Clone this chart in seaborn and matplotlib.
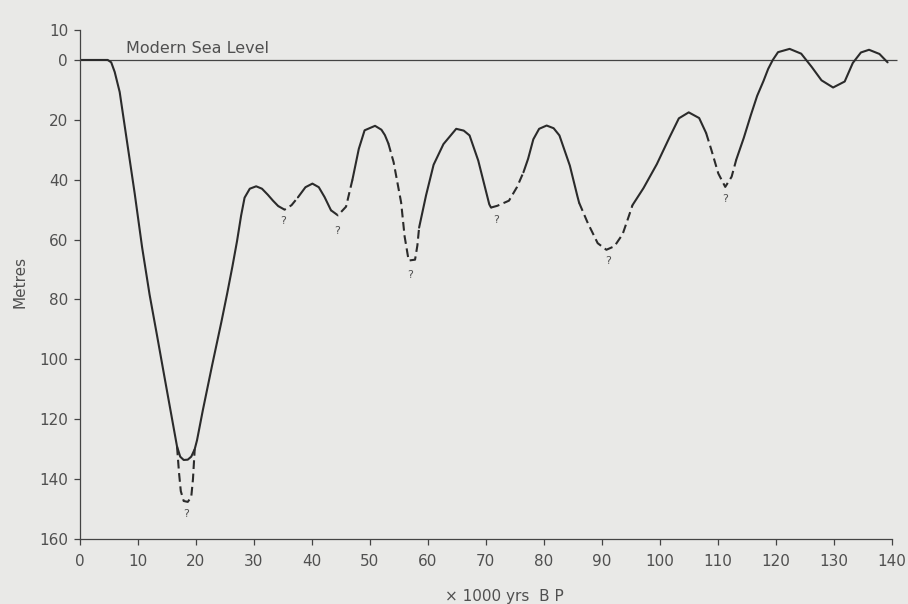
import matplotlib
matplotlib.use("Agg")
import matplotlib.pyplot as plt
import pandas as pd
import seaborn as sns

# sea level curve: thousands of years BP against metres below present level
years = [0, 2, 4.8, 5.4, 6.0, 6.86, 8.15, 9.45, 10.73, 12.02, 13.29, 14.54,
         15.8, 16.75, 17.3, 17.9, 18.6, 19.2, 19.8, 20.2, 21.2, 22.8, 24.4,
         25.4, 26.3, 27.1, 27.8, 28.4, 29.3, 30.4, 31.4, 32.4, 33.3, 34.2, 35.3,
         36.5, 37.6, 38.9, 40.1, 41.2, 42.2, 43.3, 44.5, 45.9, 47.0, 48.1, 49.1,
         50.9, 52.0, 52.6, 53.2, 54.1, 55.4, 56.0, 56.7, 57.8, 58.2, 58.5, 59.7,
         61.0, 62.7, 64.9, 66.2, 67.2, 68.7, 70.6, 70.9, 72.0, 74.0, 75.4, 76.5,
         77.3, 78.2, 79.2, 80.5, 81.7, 82.7, 84.5, 85.8, 86.1, 87.6, 89.3, 90.8,
         92.2, 93.6, 94.7, 95.3, 97.2, 99.5, 101.7, 103.3, 105.0, 106.8, 108.0,
         108.9, 110.1, 111.3, 112.4, 113.2, 114.5, 115.7, 116.8, 117.9, 118.7,
         119.5, 120.4, 122.4, 124.4, 126.2, 127.9, 129.9, 131.9, 133.3, 134.7,
         136.1, 137.9, 139.3]
depth = [0, 0, 0, 0.8, 4.0, 10.7, 27.6, 44.6, 62.6, 78.4, 91.9, 105.4,
         118.9, 129.1, 132.5, 133.6, 133.5, 132.5, 130, 127, 117, 102, 87.5,
         78, 69, 60.5, 52, 46, 43, 42.2, 43, 45, 47, 48.8, 50,
         48.5, 45.9, 42.5, 41.3, 42.5, 45.8, 50.2, 51.9, 49, 40, 29.7, 23.5,
         22, 23.3, 25.1, 27.9, 34.1, 47.6, 58.9, 67, 66.7, 62, 56, 45.2,
         35, 28.1, 23, 23.6, 25.2, 33.6, 48.2, 49.3, 48.7, 47, 42.4, 37.5,
         33, 26.5, 23, 21.9, 22.8, 25.2, 35.3, 45.5, 47.7, 54.5, 61.2, 63.4,
         62.2, 58.2, 52, 48.5, 42.8, 34.8, 25.8, 19.5, 17.5, 19.4, 24.4,
         30, 37.9, 42.4, 39, 33.3, 26, 18.5, 12, 7, 3,
         0, -2.6, -3.7, -2.1, 2.3, 6.8, 9.2, 7.2, 1.0, -2.5,
         -3.4, -2.0, 0.8]

# stretches of the curve drawn dashed (uncertain)
dashed_spans = [(34.2, 37.6), (43.3, 47.0), (53.2, 58.5), (70.9, 76.5),
                (86.1, 95.3), (108.0, 113.2)]

# deeper dashed alternative at the glacial maximum
lgm_alt_years = [16.75, 17.1, 17.4, 17.9, 18.6, 19.2, 19.5, 19.8]
lgm_alt_depth = [129.1, 138, 144, 147.3, 147.6, 146, 140, 130]

# "?" marks below the uncertain minima
query_years = [18.4, 35.1, 44.3, 57.0, 71.8, 91.1, 111.3]
query_depths = [151.6, 53.8, 57.0, 71.8, 53.3, 67.3, 46.3]

modern_sea_level = 0
x_ticks = list(range(0, 141, 10))
y_ticks = [-10, 0, 20, 40, 60, 80, 100, 120, 140, 160]
y_tick_labels = ["10", "0", "20", "40", "60", "80", "100", "120", "140", "160"]


def segment_kind(x0, x1):
    for a, b in dashed_spans:
        if a <= x0 and x1 <= b:
            return "dashed"
    return "solid"


# group the curve into runs of the same line style
runs = []
for i in range(len(years) - 1):
    kind = segment_kind(years[i], years[i + 1])
    if not runs or runs[-1][0] != kind:
        runs.append((kind, [i]))
    runs[-1][1].append(i + 1)

rows = []
for unit, (kind, idx) in enumerate(runs):
    for j in idx:
        rows.append({"year": years[j], "depth": depth[j], "unit": unit, "kind": kind})
for x, y in zip(lgm_alt_years, lgm_alt_depth):
    rows.append({"year": x, "depth": y, "unit": len(runs), "kind": "dashed"})
curve = pd.DataFrame(rows)

sns.set_style("ticks")
plt.rcParams["font.family"] = ["DejaVu Sans"]

bg = "#e9e9e7"
ink = "#2b2b2b"
text_col = "#505050"

fig = plt.figure(figsize=(9.08, 6.04), dpi=100, facecolor=bg)
ax = fig.add_axes([0.088, 0.1076, 0.894, 0.8427])
ax.set_facecolor(bg)

ax.hlines(modern_sea_level, 0, 141, color="#444444", linewidth=0.9, clip_on=False)
ax.text(8.0, modern_sea_level - 1.2, "Modern Sea Level", fontsize=11.5,
        color=text_col, ha="left", va="bottom")

sns.lineplot(data=curve, x="year", y="depth", units="unit", style="kind",
             dashes={"solid": "", "dashed": (4.2, 2.2)}, estimator=None,
             sort=False, color=ink, linewidth=1.5, legend=False, ax=ax)

for qx, qy in zip(query_years, query_depths):
    ax.text(qx, qy, "?", fontsize=8, color=text_col, ha="center", va="center")

ax.set_xlim(0, 140)
ax.set_ylim(160, -10)
ax.set_xticks(x_ticks)
ax.set_yticks(y_ticks)
ax.set_yticklabels(y_tick_labels)

for side in ["top", "right"]:
    ax.spines[side].set_visible(False)
for side in ["left", "bottom"]:
    ax.spines[side].set_color("#444444")
    ax.spines[side].set_linewidth(0.9)

ax.tick_params(axis="both", direction="out", length=4.5, width=0.9,
               colors="#444444", labelcolor=text_col, labelsize=11)
ax.tick_params(axis="x", pad=6)
ax.tick_params(axis="y", pad=4)

ax.set_xlabel("\u00d7 1000 yrs  B P", fontsize=11, color=text_col)
ax.xaxis.set_label_coords(0.523, -0.098)
ax.set_ylabel("Metres", fontsize=11, color=text_col)
ax.yaxis.set_label_coords(-0.065, 0.505)

fig.savefig("out.png", dpi=100, facecolor=bg)
